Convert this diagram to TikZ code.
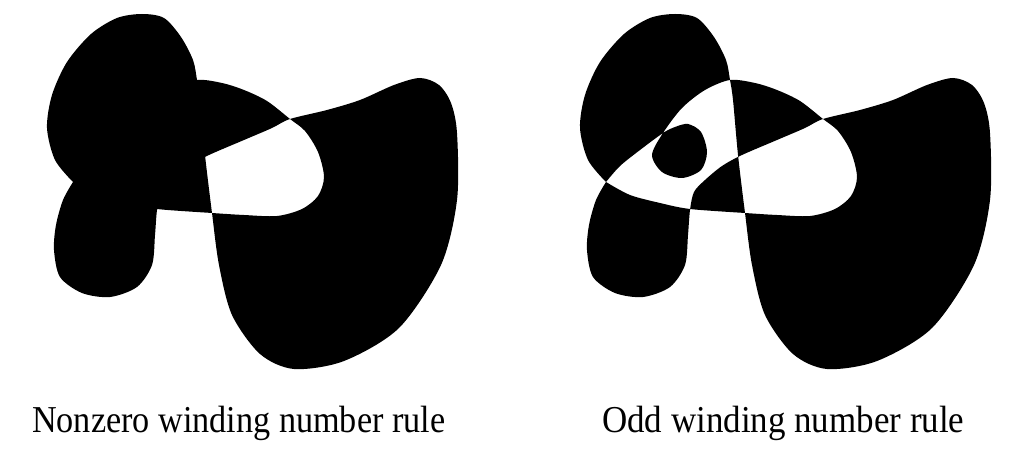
\documentclass[tikz,border=0pt]{standalone}
\usepackage{fontspec}
\setmainfont{Liberation Serif}
\usepackage{tikz}

% one self-crossing outline, filled with either rule
\newcommand\windpath{(606,182)
  -- plot[smooth] coordinates {(606,182) (630,195) (660,203) (690,209) (745,213)
     (777,215) (810,216) (835,209) (851,196) (857,177) (851,152) (838,131)
     (823,119) (800,101) (777,90) (755,83) (730,80) (705,90) (682,108)
     (663,133) (652,155) (662,172) (682,178) (701,170) (707,152) (701,132)
     (688,124) (675,127) (663,133) (640,150) (620,166) (606,182)}
  -- plot[smooth] coordinates {(606,182) (596,200) (589,225) (587,250) (593,277)
     (615,293) (643,297) (670,287) (685,265) (688,235) (690,210) (694,192)
     (705,180) (722,166) (742,155) (777,140) (805,128) (823,119) (860,110)
     (893,100) (927,85) (953,78) (972,85) (984,103) (990,133) (990,200)
     (974,265) (932,328) (877,361) (827,369) (793,354) (765,315) (752,265)
     (745,213) (738,155) (733,100) (730,80) (726,60) (714,37) (697,18)
     (675,14) (650,18) (624,34) (600,62) (585,95) (580,128) (588,160) (606,182)}
  -- cycle}

\begin{document}
\begin{tikzpicture}[x=1pt, y=-1pt,
  nzfill/.style={fill=black, nonzero rule},
  eofill/.style={fill=black, even odd rule},
  lbl/.style={anchor=base west, inner sep=0pt, font=\fontsize{38}{40}\selectfont}
]
\useasboundingbox (0,0) rectangle (1011,454);

\begin{scope}[xshift=-533pt]
  \fill[nzfill] \windpath;
\end{scope}
\fill[eofill] \windpath;

\node[lbl] (nzlabel) at (32,432) {\scalebox{0.9}[1]{Nonzero winding number rule}};
\node[lbl] (eolabel) at (602,432) {\scalebox{0.92}[1]{Odd winding number rule}};
\end{tikzpicture}
\end{document}
